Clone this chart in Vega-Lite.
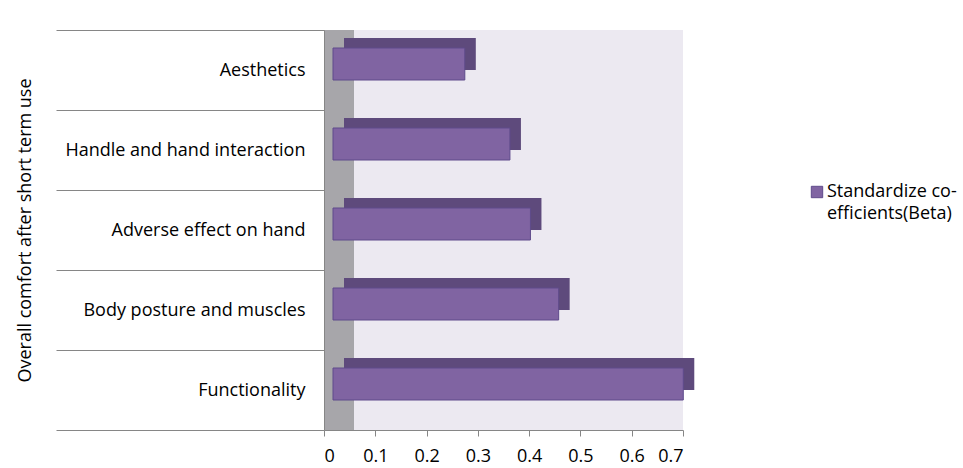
{
  "$schema": "https://vega.github.io/schema/vega-lite/v6.json",
  "width": 359,
  "height": 400,
  "autosize": {"type": "none"},
  "padding": {"left": 324, "top": 30, "right": 280, "bottom": 38},
  "background": "white",
  "config": {"view": {"fill": "#ECE9F1", "stroke": null}, "font": "Open Sans"},
  "data": {
    "values": [
      {"factor": "Aesthetics", "beta": 0.257, "series": "Standardize co-efficients(Beta)"},
      {"factor": "Handle and hand interaction", "beta": 0.345, "series": "Standardize co-efficients(Beta)"},
      {"factor": "Adverse effect on hand", "beta": 0.385, "series": "Standardize co-efficients(Beta)"},
      {"factor": "Body posture and muscles", "beta": 0.44, "series": "Standardize co-efficients(Beta)"},
      {"factor": "Functionality", "beta": 0.683, "series": "Standardize co-efficients(Beta)"}
    ]
  },
  "layer": [
    {
      "mark": {"type": "rect", "color": "#A7A6AA"},
      "encoding": {
        "x": {"datum": 0, "type": "quantitative", "scale": {"domain": [0, 0.7], "nice": false, "zero": true}},
        "x2": {"datum": 0.058}
      }
    },
    {
      "mark": {"type": "bar", "color": "#5E4A7C", "size": 32, "xOffset": 20, "x2Offset": 20, "yOffset": -16, "y2Offset": -16},
      "encoding": {
        "y": {"field": "factor", "type": "nominal", "sort": null},
        "x": {"field": "beta", "type": "quantitative"}
      }
    },
    {
      "mark": {"type": "bar", "color": "#8064A2", "stroke": "#5F4B8B", "strokeWidth": 1, "size": 32, "xOffset": 9, "x2Offset": 9, "yOffset": -6, "y2Offset": -6},
      "encoding": {
        "y": {
          "field": "factor", "type": "nominal", "sort": null,
          "scale": {"paddingInner": 0, "paddingOuter": 0},
          "axis": {
            "title": "Overall comfort after short term use",
            "titleFontSize": 18, "titleFontWeight": "normal", "titleColor": "#000000",
            "titleX": -299, "titleY": 200, "titleAngle": -90, "titleAlign": "center", "titleBaseline": "middle",
            "labelFontSize": 18, "labelColor": "#000000", "labelLimit": 0,
            "labelPadding": -249,
            "tickBand": "extent", "tickSize": 268, "tickColor": "#868686", "tickWidth": 1,
            "domainColor": "#868686", "zindex": 1
          }
        },
        "x": {
          "field": "beta", "type": "quantitative",
          "scale": {"domain": [0, 0.7], "nice": false},
          "axis": {
            "title": null,
            "values": [0, 0.1, 0.2, 0.3, 0.4, 0.5, 0.6, 0.7],
            "format": ".1~f",
            "grid": false,
            "labelFontSize": 18, "labelColor": "#000000", "labelPadding": 11,
            "tickSize": 6, "tickColor": "#868686", "domainColor": "#868686", "zindex": 1
          }
        },
        "color": {
          "field": "series", "type": "nominal",
          "scale": {"range": ["#8064A2"]},
          "legend": {
            "title": null, "orient": "none", "legendX": 484, "legendY": 153,
            "symbolType": "square", "symbolSize": 130, "symbolStrokeColor": "#5F4B8B", "symbolStrokeWidth": 1,
            "labelExpr": "['Standardize co-', 'efficients(Beta)']",
            "labelFontSize": 18, "labelColor": "#000000", "labelLimit": 0,
            "labelOffset": 1,
            "encode": {"labels": {"update": {"lineHeight": {"value": 22}}}}
          }
        }
      }
    }
  ]
}
